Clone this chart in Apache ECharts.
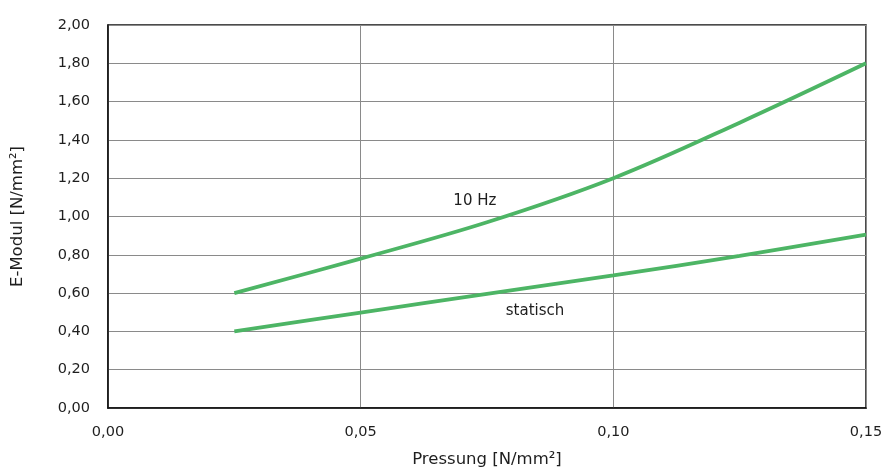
<!DOCTYPE html>
<html><head><meta charset="utf-8">
<script src="https://cdn.jsdelivr.net/npm/echarts@6/dist/echarts.min.js"></script>
<style>html,body{margin:0;padding:0;background:#fff}#c{width:886px;height:473px}</style>
</head><body><div id="c"></div>
<script>
const xHz = [0.025, 0.05, 0.075, 0.10, 0.125, 0.15];
const yHz = [0.60, 0.78, 0.97, 1.20, 1.49, 1.80];
const xStat = [0.025, 0.05, 0.075, 0.10, 0.125, 0.15];
const yStat = [0.40, 0.498, 0.596, 0.692, 0.795, 0.905];
const xTicks = [0, 0.05, 0.10, 0.15];
const yTicks = [0, 0.2, 0.4, 0.6, 0.8, 1.0, 1.2, 1.4, 1.6, 1.8, 2.0];
const labelHz = {name: '10 Hz', x: 0.0726, y: 1.08};
const labelStat = {name: 'statisch', x: 0.0845, y: 0.505};

const fmt = v => v.toFixed(2).replace('.', ',');
const font = '"DejaVu Sans", sans-serif';
const green = '#4db565';
const txt = '#1e1e1e';
const mk = (lab) => ({
  symbol: 'rect', symbolSize: 1, itemStyle: {color: 'rgba(0,0,0,0)'},
  label: {show: true, position: 'inside', formatter: lab.name, color: txt, fontSize: 15, fontFamily: font},
  data: [{coord: [lab.x, lab.y]}]
});
const chart = echarts.init(document.getElementById('c'));
chart.setOption({
  animation: false,
  grid: {left: 108, top: 25, right: 20, bottom: 61, show: true, borderColor: '#111', borderWidth: 1.5, backgroundColor: 'transparent'},
  xAxis: {
    type: 'value', min: 0, max: 0.15, interval: 0.05,
    name: 'Pressung [N/mm²]', nameLocation: 'middle', nameGap: 43,
    nameTextStyle: {color: txt, fontSize: 16.5, fontFamily: font},
    axisLine: {show: true, lineStyle: {color: '#111', width: 1.5}},
    axisTick: {show: false},
    axisLabel: {color: txt, fontSize: 14.5, fontFamily: font, margin: 17, formatter: v => fmt(v)},
    splitLine: {show: true, lineStyle: {color: '#8a8a8a', width: 1}}
  },
  yAxis: {
    type: 'value', min: 0, max: 2, interval: 0.2,
    name: 'E-Modul [N/mm²]', nameLocation: 'middle', nameGap: 82,
    nameTextStyle: {color: txt, fontSize: 16.5, fontFamily: font},
    axisLine: {show: true, lineStyle: {color: '#111', width: 1.5}},
    axisTick: {show: false},
    axisLabel: {color: txt, fontSize: 14.5, fontFamily: font, margin: 18, formatter: v => fmt(v)},
    splitLine: {show: true, lineStyle: {color: '#8a8a8a', width: 1}}
  },
  series: [
    {type: 'line', name: '10 Hz', smooth: 0.35, showSymbol: false, lineStyle: {color: green, width: 3.8},
     data: xHz.map((x, i) => [x, yHz[i]]), markPoint: mk(labelHz)},
    {type: 'line', name: 'statisch', smooth: 0.35, showSymbol: false, lineStyle: {color: green, width: 3.8},
     data: xStat.map((x, i) => [x, yStat[i]]), markPoint: mk(labelStat)}
  ]
});
</script></body></html>
